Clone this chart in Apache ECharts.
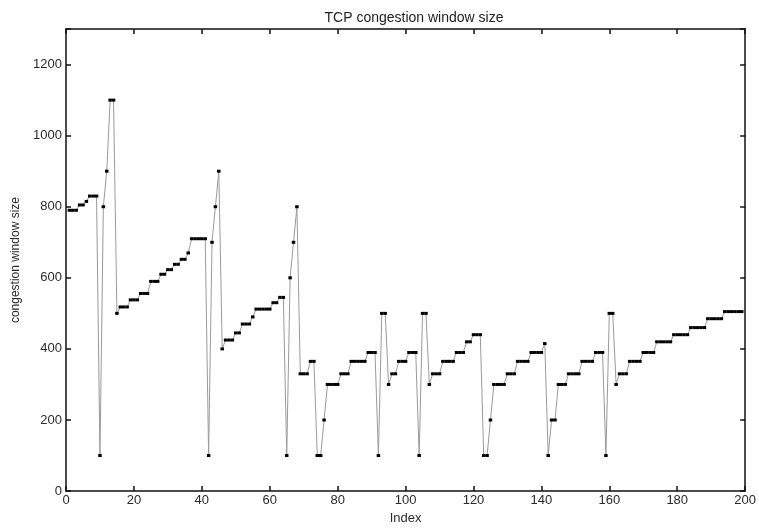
<!DOCTYPE html>
<html>
<head>
<meta charset="utf-8">
<script src="https://cdn.jsdelivr.net/npm/echarts@6/dist/echarts.min.js"></script>
<style>
html,body{margin:0;padding:0;background:#fff;}
#chart{width:759px;height:530px;}
</style>
</head>
<body>
<div id="chart"></div>
<script>
var titleText = 'TCP congestion window size';
var xName = 'Index';
var yName = 'congestion window size';
var xTicks = [0, 20, 40, 60, 80, 100, 120, 140, 160, 180, 200];
var yTicks = [0, 200, 400, 600, 800, 1000, 1200];
var startIndex = 1;
var windowSize = [
  790, 790, 790, 805, 805, 815, 830, 830, 830, 100,
  800, 900, 1100, 1100, 500, 518, 518, 518, 538, 538,
  538, 556, 556, 556, 590, 590, 590, 610, 610, 623,
  623, 638, 638, 652, 652, 670, 710, 710, 710, 710,
  710, 100, 700, 800, 900, 400, 425, 425, 425, 445,
  445, 470, 470, 470, 490, 512, 512, 512, 512, 512,
  530, 530, 545, 545, 100, 600, 700, 800, 330, 330,
  330, 365, 365, 100, 100, 200, 300, 300, 300, 300,
  330, 330, 330, 365, 365, 365, 365, 365, 390, 390,
  390, 100, 500, 500, 300, 330, 330, 365, 365, 365,
  390, 390, 390, 100, 500, 500, 300, 330, 330, 330,
  365, 365, 365, 365, 390, 390, 390, 420, 420, 440,
  440, 440, 100, 100, 200, 300, 300, 300, 300, 330,
  330, 330, 365, 365, 365, 365, 390, 390, 390, 390,
  415, 100, 200, 200, 300, 300, 300, 330, 330, 330,
  330, 365, 365, 365, 365, 390, 390, 390, 100, 500,
  500, 300, 330, 330, 330, 365, 365, 365, 365, 390,
  390, 390, 390, 420, 420, 420, 420, 420, 440, 440,
  440, 440, 440, 460, 460, 460, 460, 460, 485, 485,
  485, 485, 485, 505, 505, 505, 505, 505, 505
];

var seriesData = windowSize.map(function (v, i) { return [startIndex + i, v]; });

var chart = echarts.init(document.getElementById('chart'), null, {renderer: 'canvas'});
var fontFam = '"Liberation Sans", Arial, sans-serif';
var textColor = '#2a2a2a';
var axisLineStyle = {color: '#111', width: 1.5};
function baseAxis() {
  return {
    axisLine: {show: true, onZero: false, lineStyle: axisLineStyle},
    axisTick: {show: true, inside: true, length: 5, lineStyle: {color: '#111', width: 1.5}},
    splitLine: {show: false}
  };
}
var xBottom = Object.assign(baseAxis(), {
  type: 'value', min: xTicks[0], max: xTicks[xTicks.length - 1], interval: 20,
  position: 'bottom',
  name: xName, nameLocation: 'middle', nameGap: 19,
  nameTextStyle: {fontFamily: fontFam, fontSize: 13, color: textColor},
  axisLabel: {fontFamily: fontFam, fontSize: 13, color: textColor, margin: 3}
});
var xTop = Object.assign(baseAxis(), {
  type: 'value', min: xTicks[0], max: xTicks[xTicks.length - 1], interval: 20,
  position: 'top', axisLabel: {show: false}
});
var yLeft = Object.assign(baseAxis(), {
  type: 'value', min: 0, max: 1300, interval: 200,
  position: 'left',
  name: yName, nameLocation: 'middle', nameGap: 42, nameRotate: 90,
  nameTextStyle: {fontFamily: fontFam, fontSize: 12, color: textColor},
  axisLabel: {fontFamily: fontFam, fontSize: 13, color: textColor, margin: 4,
    formatter: function (v) { return yTicks.indexOf(v) >= 0 ? String(v) : ''; }}
});
var yRight = Object.assign(baseAxis(), {
  type: 'value', min: 0, max: 1300, interval: 200,
  position: 'right', axisLabel: {show: false}
});

chart.setOption({
  backgroundColor: '#fff',
  animation: false,
  title: {
    text: titleText, left: 409, top: 6, textAlign: 'center',
    textStyle: {fontFamily: fontFam, fontSize: 14, fontWeight: 'normal', color: '#222'}
  },
  grid: {left: 66, right: 11, top: 29, bottom: 37, containLabel: false},
  xAxis: [xBottom, xTop],
  yAxis: [yLeft, yRight],
  series: [{
    type: 'line',
    xAxisIndex: 0, yAxisIndex: 0,
    data: seriesData,
    symbol: 'rect',
    symbolSize: [3.5, 3],
    showAllSymbol: true,
    lineStyle: {color: '#9a9a9a', width: 1},
    itemStyle: {color: '#000'}
  }]
});
</script>
</body>
</html>
